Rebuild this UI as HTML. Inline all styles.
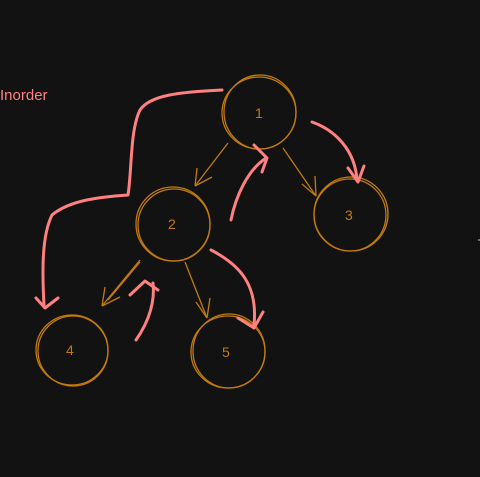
<!DOCTYPE html>
<html><head><style>
html,body{margin:0;padding:0;background:#121212;}
svg{display:block}
text{font-family:"Liberation Sans",sans-serif;}
</style></head><body>
<svg width="480" height="477" viewBox="0 0 480 477" xmlns="http://www.w3.org/2000/svg">
<rect width="480" height="477" fill="#121212"/>
<g fill="none" stroke="#c27a0e" stroke-width="1.3">
<ellipse cx="259" cy="113" rx="37" ry="36"/>
<ellipse cx="260" cy="112" rx="36" ry="37"/>
<ellipse cx="173" cy="224" rx="37" ry="37"/>
<ellipse cx="174" cy="225" rx="36" ry="36"/>
<ellipse cx="351" cy="214" rx="37" ry="37"/>
<ellipse cx="350" cy="215" rx="36" ry="36"/>
<ellipse cx="72" cy="350" rx="36" ry="35"/>
<ellipse cx="73" cy="351" rx="35" ry="35"/>
<ellipse cx="228" cy="352" rx="37" ry="36"/>
<ellipse cx="229" cy="351" rx="36" ry="37"/>
<!-- connectors -->
<path d="M228 143 L195 186"/><path d="M195 186 L197 168 M195 186 L212 177"/>
<path d="M283 148 L316 196"/><path d="M316 196 L302 184 M316 196 L315 176"/>
<path d="M140 260 L102 306"/><path d="M102 306 L105 287 M102 306 L120 297 M140 262 L108 300"/>
<path d="M185 262 L207 318"/><path d="M207 318 L196 302 M207 318 L210 298"/>
</g>
<g fill="#c27a0e" font-size="14">
<text x="255" y="118">1</text>
<text x="168" y="229">2</text>
<text x="345" y="220">3</text>
<text x="66" y="355">4</text>
<text x="222" y="357">5</text>
</g>
<g fill="none" stroke="#ff8080" stroke-width="3" stroke-linecap="round" stroke-linejoin="round">
<path d="M222 90 C180 92 150 95 140 110 C130 130 132 170 128 195 C100 197 70 200 52 215 C42 235 42 270 44 305"/>
<path d="M36 298 L45 308 L58 298"/>
<path d="M312 122 C335 130 355 150 357 180"/>
<path d="M348 168 L358 182 L364 166"/>
<path d="M231 220 C236 195 248 170 266 158"/>
<path d="M254 145 L267 158 L262 172"/>
<path d="M211 250 C240 265 258 285 254 325"/>
<path d="M238 318 L254 328 L263 312"/>
<path d="M136 340 C150 320 155 300 153 283"/>
<path d="M130 295 L145 281 L158 290"/>
</g>
<text x="0" y="100" fill="#ff8080" font-size="15">Inorder</text>
<path d="M478 240 L480 240" stroke="#ccc" stroke-width="1"/>
</svg>
</body></html>
